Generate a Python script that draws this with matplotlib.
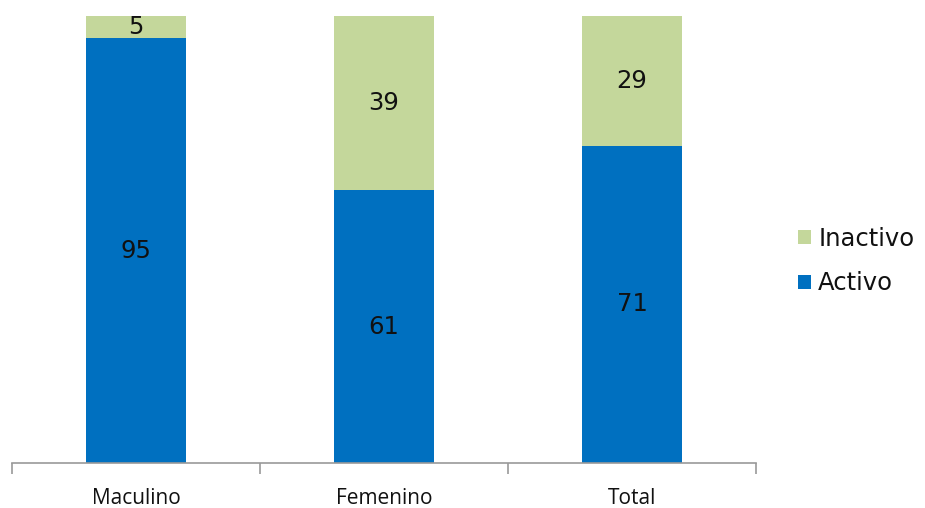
import matplotlib.pyplot as plt
import numpy as np

categories = ["Maculino", "Femenino", "Total"]
activo = [95, 61, 71]
inactivo = [5, 39, 29]

blue = "#0070C0"
green = "#C4D79B"

fig = plt.figure(figsize=(9.25, 5.08), dpi=100)
ax = fig.add_axes([12 / 925, 45 / 508, 744 / 925, 447 / 508])

x = np.arange(len(categories))
b1 = ax.bar(x, activo, width=0.4, color=blue, label="Activo")
b2 = ax.bar(x, inactivo, width=0.4, bottom=activo, color=green, label="Inactivo")

for xi, a, i in zip(x, activo, inactivo):
    ax.text(xi, a / 2, str(a), ha="center", va="center", fontsize=17.5, family="DejaVu Sans", color="#111111")
    ax.text(xi, a + i / 2, str(i), ha="center", va="center", fontsize=17.5, family="DejaVu Sans", color="#111111")

ax.set_xlim(-0.5, 2.5)
ax.set_ylim(0, 100)
ax.set_yticks([])
for s in ["top", "right", "left"]:
    ax.spines[s].set_visible(False)
ax.spines["bottom"].set_color("#999999")
ax.spines["bottom"].set_linewidth(1.2)

ax.set_xticks(x)
ax.set_xticklabels(categories, fontsize=15, family="Open Sans", color="#111111")
ax.tick_params(axis="x", which="major", length=0, pad=18)
ax.set_xticks([-0.5, 0.5, 1.5, 2.5], minor=True)
ax.tick_params(axis="x", which="minor", length=8, color="#999999", width=1.2)

leg = fig.legend(handles=[b2, b1], labels=["Inactivo", "Activo"], loc="center left",
                 bbox_to_anchor=(798 / 925, 0.486), bbox_transform=fig.transFigure,
                 frameon=False, borderpad=0, borderaxespad=0,
                 prop={"family": "DejaVu Sans", "size": 17.5},
                 handlelength=0.53, handleheight=0.53, handletextpad=0.3, labelspacing=0.85)
for t in leg.get_texts():
    t.set_color("#111111")

fig.savefig("out.png", dpi=100)
